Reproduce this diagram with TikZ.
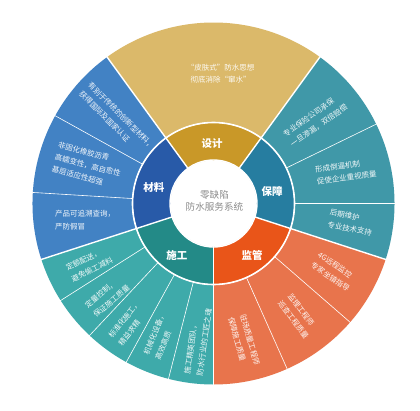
\documentclass[tikz,border=0pt]{standalone}
\usepackage{fontspec}
\setmainfont{Noto Sans CJK SC}
\definecolor{goldO}{HTML}{DBB96A}
\definecolor{goldI}{HTML}{C99828}
\definecolor{tealO}{HTML}{4098A8}
\definecolor{tealI}{HTML}{267DA0}
\definecolor{oranO}{HTML}{E8744C}
\definecolor{oranI}{HTML}{E95519}
\definecolor{grnO}{HTML}{3EAAAA}
\definecolor{grnI}{HTML}{238A87}
\definecolor{bluO}{HTML}{4282C4}
\definecolor{bluI}{HTML}{285AA8}
\definecolor{ctxt}{HTML}{8C8C8C}
\newcommand\mysector[5]{\fill[#1] (#2:#4) arc[start angle=#2,end angle=#3,radius=#4] -- (#3:#5) arc[start angle=#3,end angle=#2,radius=#5] -- cycle;}
\begin{document}
\begin{tikzpicture}[x=1pt,y=1pt,
  lbl/.style={text=white, text opacity=0.93, font=\fontsize{7.5}{12.5}\selectfont, inner sep=0pt, align=left, anchor=west},
  ilbl/.style={text=white, font=\fontsize{10.5}{12}\selectfont\bfseries, inner sep=0pt},
  majsep/.style={white, line width=1.4pt},
  minsep/.style={white, line width=0.6pt}]
\useasboundingbox (-213.5,-206.5) rectangle (206.5,203.5);
\fill[white] (-213.5,-206.5) rectangle (206.5,203.5);
% outer ring
\mysector{goldO}{54}{126}{81.5}{181}
\mysector{tealO}{-18}{54}{81.5}{181}
\mysector{oranO}{-90}{-18}{81.5}{181}
\mysector{grnO}{198}{270}{81.5}{181}
\mysector{bluO}{126}{198}{81.5}{181}
% inner ring
\mysector{goldI}{54}{126}{43}{80.5}
\mysector{tealI}{-18}{54}{43}{80.5}
\mysector{oranI}{-90}{-18}{43}{80.5}
\mysector{grnI}{198}{270}{43}{80.5}
\mysector{bluI}{126}{198}{43}{80.5}
% minor separators
\foreach \a in {26,0,-41,-66,255.6,241.2,226.8,212.4,176.5,151}
  \draw[minsep] (\a:81) -- (\a:182);
% major separators
\foreach \a in {54,126,198,270,342}
  \draw[majsep] (\a:42) -- (\a:182);
\draw[white, line width=1.6pt] (0,0) circle[radius=81];
\fill[white] (0,0) circle[radius=43];
\draw[white, line width=1.4pt] (0,0) circle[radius=43.5];
% centre text
\node[text=ctxt, font=\fontsize{9.6}{12}\selectfont, align=center, inner sep=0pt] (core) at (1,2.5) {零缺陷\\防水服务系统};
% inner labels
\node[ilbl] (sheji) at (-1.5,59.5) {设计};
\node[ilbl] (baozhang) at (58.5,12.5) {保障};
\node[ilbl] (jianguan) at (38.5,-51.5) {监管};
\node[ilbl] (shigong) at (-36.5,-51.5) {施工};
\node[ilbl] (cailiao) at (-59.5,15.5) {材料};
% outer labels
\node[lbl, anchor=center, align=center] (o1) at (7,130) {“皮肤式”防水思想\\彻底消除“窜水”};
\node[lbl, rotate=35] (o2) at (74,63.5) {专业保险公司承保\\一旦渗漏，双倍赔偿};
\node[lbl, rotate=8] (o3) at (102.5,27.5) {形成倒逼机制\\促使企业重视质量};
\node[lbl, rotate=-11] (o4) at (115.2,-14.8) {后期维护\\专业技术支持};
\node[lbl, rotate=-34] (o5) at (101.5,-55.5) {4G远程监控\\专家坐镇指导};
\node[lbl, rotate=-53] (o6) at (71.2,-94.8) {监理工程师\\巡查工程质量};
\node[lbl, rotate=-74] (o7) at (23.2,-112.3) {驻场质量工程师\\保障施工质量};
\node[lbl, rotate=82] (o8) at (-20.2,-171.5) {施工精英团队，\\防水行业的工匠之魂};
\node[lbl, rotate=68] (o9) at (-61.8,-153.5) {机械化设备，\\高效高质};
\node[lbl, rotate=52] (o10) at (-98.5,-137.5) {标准化施工，\\精益求精};
\node[lbl, rotate=40] (o11) at (-123.5,-107.5) {定量控制，\\保证施工质量};
\node[lbl, rotate=26] (o12) at (-144.5,-70.5) {定额配送，\\避免偷工减料};
\node[lbl, rotate=0] (o13) at (-158.5,-16.5) {产品可追溯查询，\\严防假冒};
\node[lbl, rotate=-14.5] (o14) at (-158.5,46.5) {非固化橡胶沥青\\高蠕变性，高自愈性\\基层适应性超强};
\node[lbl, rotate=-45] (o15) at (-128.5,115.5) {有别于传统的创新型材料，\\获得国际及国家认证};
\end{tikzpicture}
\end{document}
